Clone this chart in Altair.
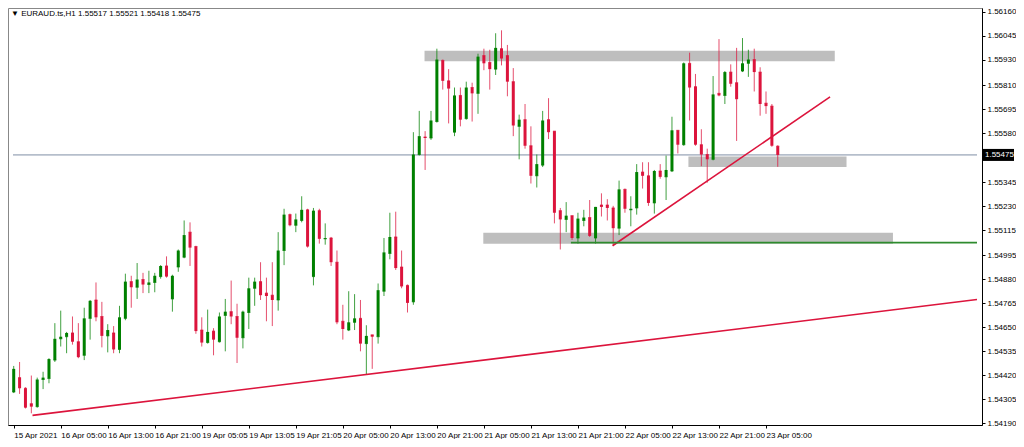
import altair as alt
import pandas as pd

# ---- candle data (H1 bars, index 0 = 15 Apr 2021 21:00) ----
bar_idx = list(range(131))
open_ = [1.54339,1.54408,1.54357,1.54283,1.54269,1.54399,1.54404,1.54492,1.54594,1.54604,
         1.54622,1.54580,1.54515,1.54692,1.54780,1.54701,1.54608,1.54622,1.54543,1.54692,
         1.54868,1.54841,1.54878,1.54854,1.54864,1.54892,1.54943,1.54785,1.54938,1.54985,
         1.55105,1.55036,1.54636,1.54576,1.54631,1.54580,1.54706,1.54724,1.54701,1.54599,
         1.54720,1.54836,1.54868,1.54813,1.54803,1.54780,1.55017,1.55189,1.55138,1.55161,
         1.55212,1.54892,1.55208,1.55073,1.55077,1.54961,1.54678,1.54636,1.54673,1.54692,
         1.54571,1.54613,1.54604,1.54822,1.55003,1.55082,1.54938,1.54850,1.54771,1.55477,
         1.55561,1.55556,1.55635,1.55928,1.55830,1.55584,1.55760,1.55649,1.55798,1.55770,
         1.55951,1.55918,1.55886,1.55984,1.55951,1.55826,1.55612,1.55644,1.55519,1.55375,
         1.55426,1.55644,1.55589,1.55208,1.55166,1.55184,1.55077,1.55161,1.55175,1.55077,
         1.55235,1.55235,1.55221,1.55124,1.55310,1.55212,1.55221,1.55393,1.55375,1.55245,
         1.55398,1.55370,1.55398,1.55593,1.55524,1.55914,1.55802,1.55524,1.55477,1.55454,
         1.55770,1.55760,1.55872,1.55821,1.55877,1.55914,1.55932,1.55872,1.55723,1.55709,
         1.55517]
high_ = [1.54464,1.54483,1.54362,1.54418,1.54408,1.54436,1.54501,1.54669,1.54729,1.54627,
         1.54701,1.54669,1.54743,1.54780,1.54864,1.54771,1.54664,1.54655,1.54752,1.54906,
         1.54896,1.54957,1.54910,1.54920,1.54910,1.54947,1.54989,1.54901,1.55022,1.55161,
         1.55152,1.55040,1.54697,1.54734,1.54645,1.54720,1.54785,1.54873,1.54762,1.54729,
         1.54887,1.54887,1.54961,1.54887,1.54961,1.55105,1.55217,1.55194,1.55194,1.55277,
         1.55217,1.55221,1.55217,1.55147,1.55082,1.55017,1.54757,1.54822,1.54808,1.54780,
         1.54659,1.54613,1.54859,1.55077,1.55198,1.55203,1.55017,1.54854,1.55584,1.55686,
         1.55589,1.55686,1.55984,1.55932,1.55886,1.55798,1.55798,1.55826,1.55821,1.55960,
         1.55984,1.55979,1.56058,1.56072,1.56002,1.55891,1.55668,1.55719,1.55612,1.55477,
         1.55686,1.55747,1.55589,1.55221,1.55249,1.55184,1.55198,1.55212,1.55259,1.55226,
         1.55291,1.55263,1.55231,1.55352,1.55314,1.55277,1.55431,1.55440,1.55440,1.55403,
         1.55431,1.55472,1.55658,1.55593,1.55918,1.55965,1.55863,1.55598,1.55505,1.55853,
         1.56030,1.55877,1.55909,1.55988,1.56035,1.55979,1.55984,1.55895,1.55779,1.55719,
         1.55521]
low_ = [1.54334,1.54330,1.54260,1.54237,1.54264,1.54353,1.54381,1.54483,1.54557,1.54525,
        1.54566,1.54501,1.54492,1.54590,1.54678,1.54553,1.54529,1.54525,1.54525,1.54683,
        1.54743,1.54785,1.54813,1.54813,1.54817,1.54882,1.54887,1.54724,1.54915,1.54980,
        1.54943,1.54618,1.54557,1.54571,1.54515,1.54576,1.54534,1.54664,1.54478,1.54548,
        1.54641,1.54752,1.54780,1.54678,1.54655,1.54729,1.54947,1.55133,1.55105,1.55152,
        1.55031,1.54850,1.55050,1.55045,1.54943,1.54664,1.54590,1.54631,1.54636,1.54534,
        1.54422,1.54450,1.54571,1.54799,1.54975,1.54924,1.54836,1.54720,1.54757,1.55472,
        1.55403,1.55547,1.55630,1.55788,1.55626,1.55565,1.55612,1.55644,1.55635,1.55672,
        1.55881,1.55788,1.55858,1.55904,1.55756,1.55565,1.55454,1.55505,1.55338,1.55319,
        1.55417,1.55551,1.55147,1.55022,1.55105,1.55068,1.55050,1.55133,1.55082,1.55050,
        1.55180,1.55161,1.55040,1.55091,1.55198,1.55133,1.55189,1.55314,1.55231,1.55194,
        1.55361,1.55259,1.55393,1.55482,1.55519,1.55640,1.55519,1.55421,1.55342,1.55449,
        1.55756,1.55719,1.55802,1.55542,1.55872,1.55849,1.55779,1.55663,1.55672,1.55514,
        1.55418]
close_ = [1.54450,1.54357,1.54264,1.54269,1.54399,1.54408,1.54497,1.54594,1.54604,1.54622,
          1.54580,1.54506,1.54692,1.54776,1.54697,1.54608,1.54636,1.54543,1.54697,1.54868,
          1.54841,1.54878,1.54854,1.54864,1.54896,1.54943,1.54892,1.54896,1.55017,1.55091,
          1.55031,1.54631,1.54576,1.54627,1.54590,1.54701,1.54724,1.54701,1.54599,1.54724,
          1.54836,1.54868,1.54803,1.54799,1.54780,1.55017,1.55189,1.55138,1.55166,1.55212,
          1.55036,1.55208,1.55073,1.55077,1.54961,1.54673,1.54641,1.54673,1.54692,1.54571,
          1.54608,1.54604,1.54827,1.55008,1.55082,1.54933,1.54845,1.54766,1.55477,1.55565,
          1.55556,1.55640,1.55932,1.55830,1.55793,1.55760,1.55644,1.55798,1.55770,1.55946,
          1.55914,1.55886,1.55988,1.55937,1.55826,1.55616,1.55644,1.55519,1.55375,1.55431,
          1.55640,1.55584,1.55198,1.55166,1.55184,1.55077,1.55170,1.55175,1.55087,1.55226,
          1.55226,1.55221,1.55124,1.55310,1.55217,1.55217,1.55393,1.55375,1.55245,1.55398,
          1.55370,1.55403,1.55593,1.55524,1.55914,1.55798,1.55524,1.55477,1.55454,1.55765,
          1.55760,1.55872,1.55816,1.55742,1.55914,1.55932,1.55872,1.55719,1.55709,1.55519,
          1.55475]

# ---- axis labels ----
time_tick_bars = [0, 8, 16, 24, 32, 40, 48, 56, 64, 72, 80, 88, 96, 104, 112, 120, 128]
time_tick_labels = ["15 Apr 2021", "16 Apr 05:00", "16 Apr 13:00", "16 Apr 21:00",
                    "19 Apr 05:05", "19 Apr 13:05", "19 Apr 21:05", "20 Apr 05:00",
                    "20 Apr 13:00", "20 Apr 21:00", "21 Apr 05:00", "21 Apr 13:00",
                    "21 Apr 21:00", "22 Apr 05:00", "22 Apr 13:00", "22 Apr 21:00",
                    "23 Apr 05:00"]
price_ticks = [1.56160, 1.56045, 1.55930, 1.55810, 1.55695, 1.55580, 1.55345, 1.55230,
               1.55115, 1.54995, 1.54880, 1.54765, 1.54650, 1.54535, 1.54420, 1.54305, 1.54190]

# ---- drawn objects ----
zone_x1 = [69.9, 114.8, 79.9]
zone_x2 = [139.7, 141.7, 149.6]
zone_top = [1.55974, 1.55468, 1.55102]
zone_bottom = [1.55924, 1.55417, 1.55050]

trend_long_x = [3.2, 163.9]
trend_long_y = [1.54227, 1.54782]
trend_short_x = [101.9, 138.9]
trend_short_y = [1.55040, 1.55753]
support_x = [94.8, 163.9]
support_y = [1.55055, 1.55055]
last_price = 1.55475
header_text = "\u25BC EURAUD.ts,H1  1.55517 1.55521 1.55418 1.55475"

X_DOMAIN = [-0.12, 163.9]
Y_DOMAIN = [1.54181, 1.56179]
GREEN = "#008000"
RED = "#DC143C"
FONT = "Liberation Sans"

candles = pd.DataFrame({"bar": bar_idx, "open": open_, "high": high_,
                        "low": low_, "close": close_})
candles["dir"] = ["up" if c >= o else "down" for o, c in zip(open_, close_)]

xs = alt.Scale(domain=X_DOMAIN, nice=False, zero=False)
ys = alt.Scale(domain=Y_DOMAIN, nice=False, zero=False)
color = alt.Color("dir:N", scale=alt.Scale(domain=["up", "down"], range=[GREEN, RED]), legend=None)

label_expr = "[" + ",".join("'" + s + "'" for s in time_tick_labels) + "][round(datum.value/8)]"

x_axis = alt.Axis(values=time_tick_bars, labelExpr=label_expr, labelAlign="left",
                  labelPadding=3, tickSize=3, labelOverlap=False, labelFlush=False,
                  domainColor="#000", tickColor="#000", labelColor="#000",
                  labelFont=FONT, labelFontSize=8, grid=False, title=None)
y_axis = alt.Axis(values=price_ticks, format=".5f", orient="right", tickSize=3,
                  labelPadding=2, domainColor="#000", tickColor="#000", labelColor="#000",
                  labelFont=FONT, labelFontSize=8, grid=False, title=None, labelOverlap=False)


def X(field):
    return alt.X(field, scale=xs, axis=x_axis, title=None)


def Y(field):
    return alt.Y(field, scale=ys, axis=y_axis, title=None)


# zones
zones_df = pd.DataFrame({"x1": zone_x1, "x2": zone_x2, "top": zone_top, "bottom": zone_bottom})
zones = alt.Chart(zones_df).mark_rect(color="#BEBEBE").encode(
    x=X("x1:Q"), x2="x2:Q", y=Y("top:Q"), y2="bottom:Q")

# last price line
lp_df = pd.DataFrame({"price": [last_price], "x1": [X_DOMAIN[0]], "x2": [X_DOMAIN[1]]})
lp_line = alt.Chart(lp_df).mark_rule(color="#7F8FA6", strokeWidth=1).encode(
    x=X("x1:Q"), x2="x2:Q", y=Y("price:Q"))

wicks = alt.Chart(candles).mark_rule(strokeWidth=1, opacity=0.75).encode(
    x=X("bar:Q"), y=Y("low:Q"), y2="high:Q", color=color)

bodies = alt.Chart(candles).mark_bar(size=3).encode(
    x=X("bar:Q"), y=Y("open:Q"), y2="close:Q", color=color)

doji = alt.Chart(candles).mark_tick(orient="horizontal", size=3, thickness=1).encode(
    x=X("bar:Q"), y=Y("open:Q"), color=color)


def seg(xv, yv, col, w):
    d = pd.DataFrame({"x": xv, "y": yv})
    return alt.Chart(d).mark_line(color=col, strokeWidth=w).encode(x=X("x:Q"), y=Y("y:Q"))


trend_long = seg(trend_long_x, trend_long_y, RED, 1.6)
trend_short = seg(trend_short_x, trend_short_y, RED, 1.6)
support = seg(support_x, support_y, "#2E8B2E", 1.6)

lp_box = alt.Chart(lp_df).mark_rect(color="#000", xOffset=1, x2Offset=32,
                                    yOffset=-6, y2Offset=6).encode(
    x=alt.value("width"), x2=alt.value("width"),
    y=Y("price:Q"), y2="price:Q")
lp_text = alt.Chart(lp_df).mark_text(align="left", baseline="middle", dx=3, color="#fff",
                                     font=FONT, fontSize=8).encode(
    x=alt.value("width"), y=Y("price:Q"),
    text=alt.Text("price:Q", format=".5f"))

hdr = alt.Chart(pd.DataFrame({"t": [header_text]})).mark_text(
    align="left", baseline="top", font=FONT, fontSize=8, color="#000").encode(
    x=alt.value(3), y=alt.value(2), text="t:N")

chart = alt.layer(zones, lp_line, wicks, bodies, doji, trend_long, trend_short, support,
                  lp_box, lp_text, hdr).properties(
    width=1008, height=431,
    autosize=alt.AutoSizeParams(type="fit", contains="padding"),
    padding={"left": 0, "top": 0, "right": 0, "bottom": 0},
    background="#ffffff"
).configure_view(stroke="#888888", strokeWidth=1)

chart.save("out.html", embed_options={"renderer": "svg", "actions": False})
